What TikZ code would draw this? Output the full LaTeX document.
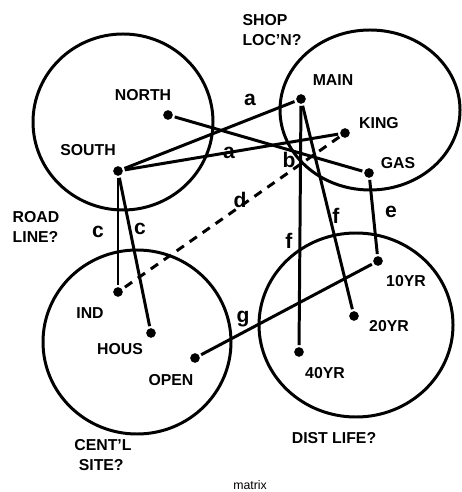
\documentclass[tikz,border=0pt]{standalone}
\usepackage{fontspec}
\setsansfont{Liberation Sans}
\usepackage{tikz}

\begin{document}
\begin{tikzpicture}[x=0.02cm, y=-0.02cm,
        dot/.style={circle, fill, inner sep=0pt, minimum size=5.5pt},
        area/.style={line width=1.7pt},
        link/.style={line width=1.7pt, shorten <=1pt, shorten >=1pt},
        maybe/.style={link, dashed, dash pattern=on 5pt off 4pt},
        lbl/.style={font=\sffamily\bfseries\small},
        tag/.style={font=\sffamily\bfseries\large, inner sep=1pt},
        ask/.style={font=\sffamily\bfseries\small, align=left}
    ]
    \useasboundingbox (0,0) rectangle (461,492);

    % THE FOUR AREAS
    \draw[area] (123,122) ellipse [x radius=90, y radius=88];
    \draw[area] (370,110) ellipse [x radius=90, y radius=80];
    \draw[area] (137,342) ellipse [x radius=94, y radius=92];
    \draw[area] (356,325) ellipse [x radius=97, y radius=92];

    % QUESTIONS
    \node[ask] at (272,30) {SHOP\\LOC'N?};
    \node[ask] at (36,227) {ROAD\\LINE?};
    \node[ask] at (103,455) {CENT'L\\\ SITE?};
    \node[ask] at (334,438) {DIST LIFE?};
    \node[font=\sffamily\scriptsize, inner sep=0pt] at (250,485) {matrix};

    % OPTIONS
    \node[dot] (north) at (168,115) {};
    \node[lbl] at (143,95) {NORTH};
    \node[dot] (south) at (118,171) {};
    \node[lbl] at (88,150) {SOUTH};
    \node[dot] (main) at (301,99) {};
    \node[lbl] at (333,80) {MAIN};
    \node[dot] (king) at (345,133) {};
    \node[lbl] at (379,123) {KING};
    \node[dot] (gas) at (369,173) {};
    \node[lbl] at (398,163) {GAS};
    \node[dot] (ind) at (118,292) {};
    \node[lbl] at (90,313) {IND};
    \node[dot] (hous) at (151,333) {};
    \node[lbl] at (120,349) {HOUS};
    \node[dot] (open) at (195,358) {};
    \node[lbl] at (171,380) {OPEN};
    \node[dot] (tenyr) at (378,261) {};
    \node[lbl] at (406,281) {10YR};
    \node[dot] (twentyyr) at (354,316) {};
    \node[lbl] at (389,326) {20YR};
    \node[dot] (fortyyr) at (299,352) {};
    \node[lbl] at (325,373) {40YR};

    % LINKS
    \draw[link] (south) -- (main);
    \node[tag] at (250,100) {a};
    \draw[link] (south) -- (king);
    \node[tag] at (229,153) {a};
    \draw[link] (north) -- (gas);
    \node[tag] at (289,160) {b};
    \draw[link] (south) -- (ind);
    \node[tag] at (98,232) {c};
    \draw[link] (south) -- (hous);
    \node[tag] at (140,229) {c};
    \draw[maybe] (king) -- (ind);
    \node[tag] at (240,200) {d};
    \draw[link] (gas) -- (tenyr);
    \node[tag] at (391,212) {e};
    \draw[link] (main) -- (fortyyr);
    \node[tag] at (289,241) {f};
    \draw[link] (main) -- (twentyyr);
    \node[tag] at (336,216) {f};
    \draw[link] (open) -- (tenyr);
    \node[tag] at (243,319) {g};

\end{tikzpicture}
\end{document}
